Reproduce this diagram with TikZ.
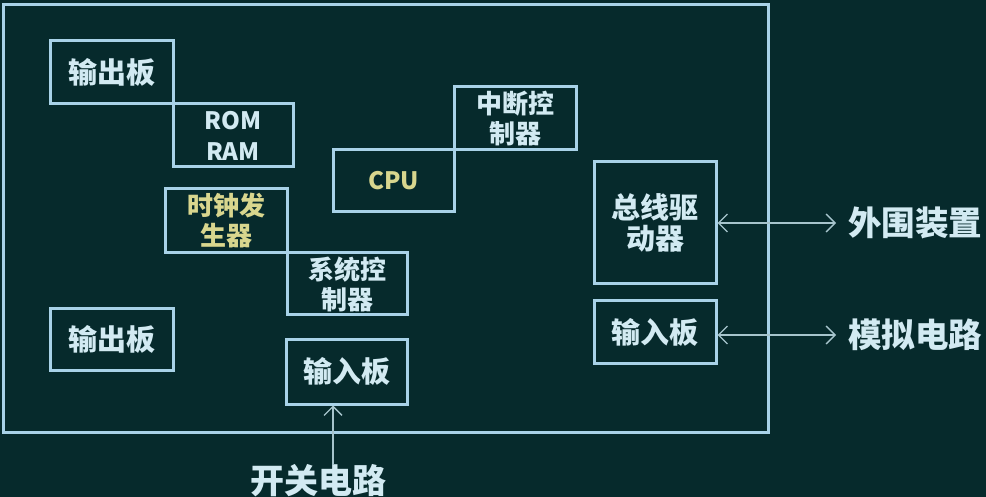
\documentclass[tikz,border=0pt]{standalone}
\usepackage{fontspec}
\setmainfont{Noto Sans CJK SC}
\usetikzlibrary{arrows.meta}
\definecolor{bg}{HTML}{062A2C}
\definecolor{boxline}{HTML}{A8D2E8}
\definecolor{txt}{HTML}{D2EAF2}
\definecolor{ytxt}{HTML}{D8D68E}
\definecolor{arr}{HTML}{A6C4CC}
\tikzset{
  blk/.style={draw=boxline, line width=3pt, inner sep=0pt, align=center,
    text=txt, font=\fontsize{26}{30}\selectfont\bfseries},
  big/.style={font=\fontsize{29}{31}\selectfont\bfseries},
  lat/.style={font=\fontsize{24}{31}\selectfont\bfseries},
  ylw/.style={text=ytxt},
  conn/.style={draw=arr, line width=1.4pt, arrows={Straight Barb[length=9pt,width=18pt,line width=1.4pt]-Straight Barb[length=9pt,width=18pt,line width=1.4pt]}},
  upconn/.style={draw=arr, line width=1.4pt, arrows={-Straight Barb[length=9pt,width=18pt,line width=1.4pt]}},
  lbl/.style={text=txt, font=\fontsize{33.5}{38}\selectfont\bfseries, inner sep=0pt}
}
\begin{document}
\begin{tikzpicture}[x=1pt,y=-1pt]
\fill[bg] (0,0) rectangle (986,497);
\useasboundingbox (0,0) rectangle (986,497);
\node[draw=boxline, line width=3pt, minimum width=765pt, minimum height=427pt, inner sep=0pt] (frame) at (385.5,218.5) {};
\node[blk, big, minimum width=123pt, minimum height=63pt] (out1) at (111.5,72.5) {输出板};
\node[blk, lat, minimum width=120pt, minimum height=63pt] (rom) at (233,135.5) {ROM\\RAM};
\node[blk, ylw, minimum width=122pt, minimum height=64pt] (clk) at (226,221) {时钟发\\生器};
\node[blk, minimum width=120pt, minimum height=62pt] (sys) at (347,284) {系统控\\制器};
\node[blk, big, minimum width=123pt, minimum height=61pt] (out2) at (111.5,339.5) {输出板};
\node[blk, big, minimum width=121pt, minimum height=65pt] (in1) at (346.5,371.5) {输入板};
\node[blk, lat, ylw, minimum width=121pt, minimum height=62pt] (cpu) at (393.5,181) {CPU};
\node[blk, minimum width=122pt, minimum height=63pt] (int) at (515,118.5) {中断控\\制器};
\node[blk, big, minimum width=122pt, minimum height=122pt] (bus) at (655,223) {总线驱\\动器};
\node[blk, big, minimum width=122pt, minimum height=62pt] (in2) at (655,332) {输入板};
\node[lbl, anchor=west] (peri) at (848,223) {外围装置};
\node[lbl, anchor=west] (ana) at (848,335) {模拟电路};
\node[lbl, font=\fontsize{34}{36}\selectfont\bfseries] (sw) at (318,481) {开关电路};
\coordinate (pe) at (836,223);
\coordinate (ae) at (836,335);
\draw[conn] (bus.east) -- (pe);
\draw[conn] (in2.east |- ae) -- (ae);
\draw[upconn] (sw.north -| in1.south) ++(-13.5,0) coordinate (sws) -- (sws |- in1.south);
\end{tikzpicture}
\end{document}
